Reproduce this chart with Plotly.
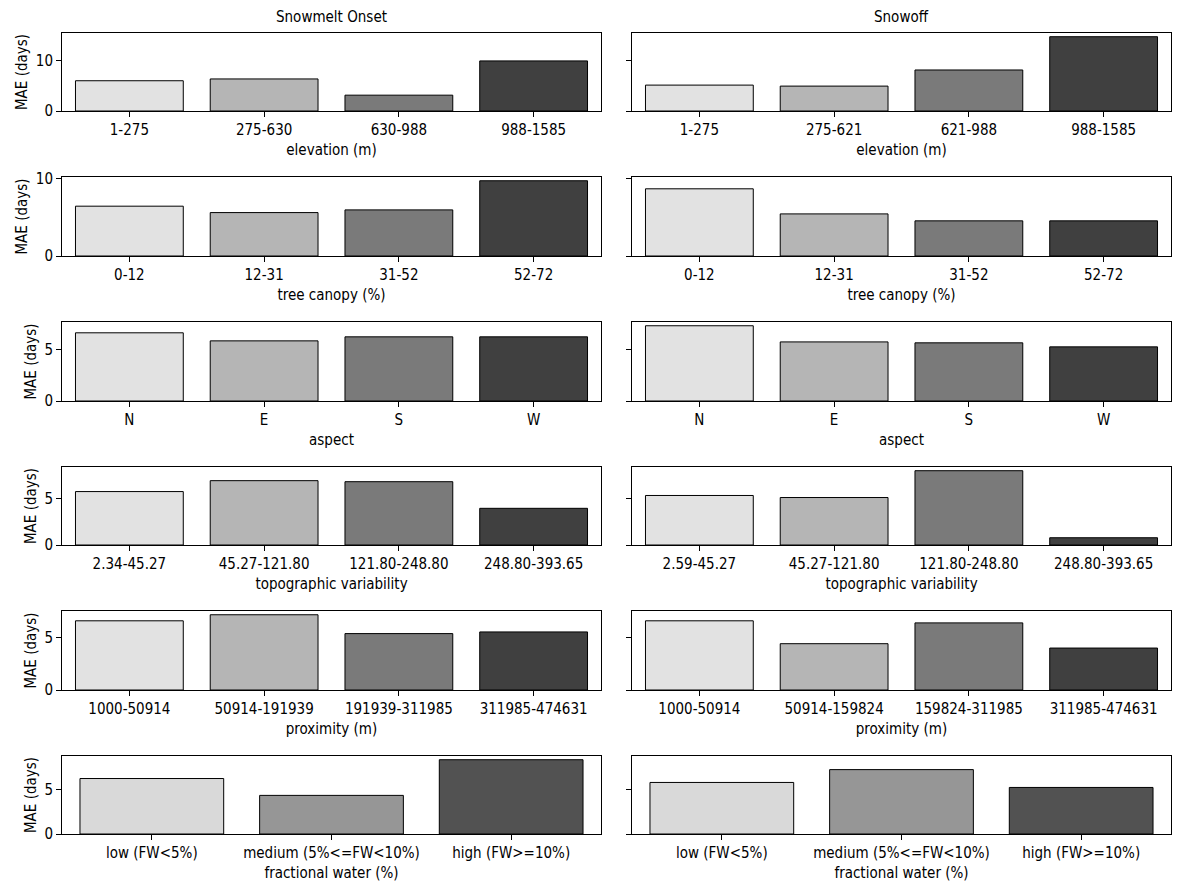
import plotly.graph_objects as go

# ---------------- data ----------------
col_titles = ["Snowmelt Onset", "Snowoff"]
y_label = "MAE (days)"

elev_label = "elevation (m)"
elev_melt_cats = ["1-275", "275-630", "630-988", "988-1585"]
elev_off_cats = ["1-275", "275-621", "621-988", "988-1585"]
elev_melt = [6.04, 6.40, 3.16, 10.0]
elev_off = [5.17, 4.97, 8.19, 14.83]

canopy_label = "tree canopy (%)"
canopy_cats = ["0-12", "12-31", "31-52", "52-72"]
canopy_melt = [6.45, 5.62, 5.97, 9.74]
canopy_off = [8.70, 5.45, 4.55, 4.55]

aspect_label = "aspect"
aspect_cats = ["N", "E", "S", "W"]
aspect_melt = [6.59, 5.81, 6.20, 6.20]
aspect_off = [7.27, 5.71, 5.62, 5.23]

topo_label = "topographic variability"
topo_melt_cats = ["2.34-45.27", "45.27-121.80", "121.80-248.80", "248.80-393.65"]
topo_off_cats = ["2.59-45.27", "45.27-121.80", "121.80-248.80", "248.80-393.65"]
topo_melt = [5.74, 6.91, 6.80, 3.94]
topo_off = [5.32, 5.10, 7.98, 0.78]

prox_label = "proximity (m)"
prox_melt_cats = ["1000-50914", "50914-191939", "191939-311985", "311985-474631"]
prox_off_cats = ["1000-50914", "50914-159824", "159824-311985", "311985-474631"]
prox_melt = [6.65, 7.23, 5.42, 5.58]
prox_off = [6.65, 4.45, 6.45, 4.03]

fw_label = "fractional water (%)"
fw_cats = ["low (FW<5%)", "medium (5%<=FW<10%)", "high (FW>=10%)"]
fw_melt = [6.22, 4.33, 8.33]
fw_off = [5.78, 7.22, 5.22]

y_dticks = [10, 10, 5, 5, 5, 5]

# ---------------- styling ----------------
greys4 = ["#e2e2e2", "#b5b5b5", "#7a7a7a", "#404040"]
greys3 = ["#d9d9d9", "#969696", "#525252"]
FONT = "DejaVu Sans Condensed, DejaVu Sans"
FS = 15

rows = [
    (elev_label, elev_melt_cats, elev_melt, elev_off_cats, elev_off),
    (canopy_label, canopy_cats, canopy_melt, canopy_cats, canopy_off),
    (aspect_label, aspect_cats, aspect_melt, aspect_cats, aspect_off),
    (topo_label, topo_melt_cats, topo_melt, topo_off_cats, topo_off),
    (prox_label, prox_melt_cats, prox_melt, prox_off_cats, prox_off),
    (fw_label, fw_cats, fw_melt, fw_cats, fw_off),
]

W, H = 1185, 892
ML, MR, MT, MB = 62, 14, 33, 58
PW = W - ML - MR
PH = H - MT - MB

row_px = [(33, 111), (177, 256), (322, 401), (467, 545), (611, 690), (756, 834)]
col_px = [(62, 601), (632, 1171)]


def xdom(a, b):
    return [(a - ML) / PW, (b - ML) / PW]


def ydom(top, bot):
    return [(H - MB - bot) / PH, (H - MB - top) / PH]


fig = go.Figure()
layout = {}
idx = 0
for r, (xlabel, cm, vm, co, vo) in enumerate(rows):
    ymax = max(max(vm), max(vo)) * 1.05
    for c, (cats, vals) in enumerate([(cm, vm), (co, vo)]):
        idx += 1
        xa = "x" if idx == 1 else f"x{idx}"
        ya = "y" if idx == 1 else f"y{idx}"
        colors = greys4 if len(cats) == 4 else greys3
        xpos = list(range(len(cats)))
        fig.add_trace(go.Bar(
            x=xpos, y=vals, xaxis=xa, yaxis=ya, width=0.8,
            marker=dict(color=colors, line=dict(color="black", width=1)),
            showlegend=False,
            hovertext=cats,
        ))
        layout["xaxis" if idx == 1 else f"xaxis{idx}"] = dict(
            domain=xdom(*col_px[c]), anchor=ya,
            range=[-0.5, len(cats) - 0.5],
            tickmode="array", tickvals=xpos, ticktext=cats,
            showline=True, mirror=True, linecolor="black", linewidth=1,
            ticks="outside", ticklen=5, tickcolor="black", tickwidth=1,
            showgrid=False, zeroline=False,
            tickfont=dict(family=FONT, size=FS, color="black"),
            title=dict(text=xlabel, font=dict(family=FONT, size=FS, color="black"), standoff=6),
            automargin=True,
            fixedrange=True,
        )
        layout["yaxis" if idx == 1 else f"yaxis{idx}"] = dict(
            domain=ydom(*row_px[r]), anchor=xa,
            range=[0, ymax],
            dtick=y_dticks[r], tick0=0,
            showline=True, mirror=True, linecolor="black", linewidth=1,
            ticks="outside", ticklen=5, tickcolor="black", tickwidth=1,
            showgrid=False, zeroline=False,
            showticklabels=(c == 0),
            tickfont=dict(family=FONT, size=FS, color="black"),
            title=dict(text=y_label if c == 0 else "", font=dict(family=FONT, size=FS, color="black"), standoff=4),
            automargin=True,
            fixedrange=True,
        )

annotations = []
for c, t in enumerate(col_titles):
    d = xdom(*col_px[c])
    annotations.append(dict(
        text=t, x=(d[0] + d[1]) / 2, y=1, xref="paper", yref="paper",
        xanchor="center", yanchor="bottom", yshift=5, showarrow=False,
        font=dict(family=FONT, size=FS, color="black"),
    ))

fig.update_layout(
    **layout,
    width=W, height=H,
    margin=dict(l=ML, r=MR, t=MT, b=MB),
    paper_bgcolor="white", plot_bgcolor="white",
    font=dict(family=FONT, size=FS, color="black"),
    annotations=annotations,
    bargap=0.2,
)

fig.write_html(
    "out.html",
    config={"displayModeBar": False},
    post_script="document.body.style.margin='0px';document.body.style.overflow='hidden';",
)
